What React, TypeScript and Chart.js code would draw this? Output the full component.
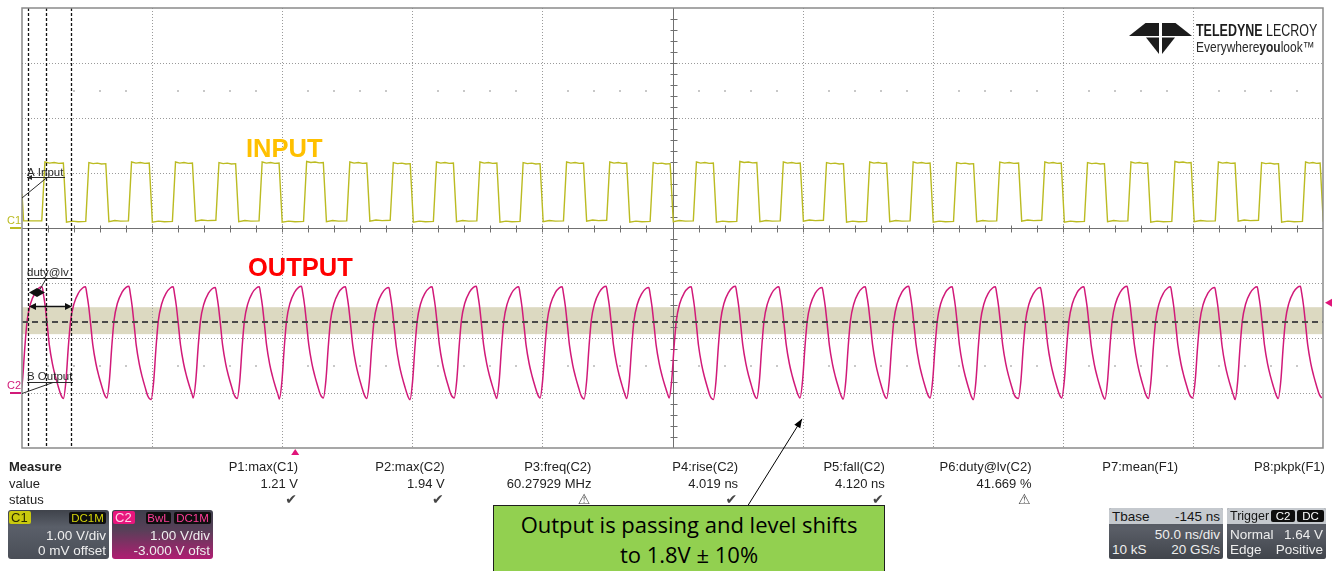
import React, { useEffect, useRef } from 'react';
import { Chart, registerables } from 'chart.js';

Chart.register(...registerables);

// ---------- screen settings (50 ns/div, trigger at 0 ns, Tbase -145 ns) ----------
const timeMinNs = -105;
const timeMaxNs = 395;
const timeGridNs = [-105, -55, -5, 45, 95, 145, 195, 245, 295, 345, 395];
const c1GridV = [-4, -3, -2, -1, 0, 1, 2, 3, 4]; // C1: 1.00 V/div, 0 mV offset
const c2AxisMinV = -1; // C2: 1.00 V/div, -3.000 V offset
const c2AxisMaxV = 7;

// ---------- C1 (input) edges ----------
const c1RiseNs = [-96.8, -79.9, -63.5, -46.6, -29.9, -13.3, 3.8, 20.4, 37.1, 53.7, 70.4, 87.0, 103.7, 120.3, 137.0, 153.6, 170.3, 187.0, 203.6, 220.2, 236.9, 253.6, 270.2, 287.5, 303.9, 320.6, 337.5, 354.2, 370.8, 387.7];
const c1FallNs = [-88.5, -72.2, -55.5, -38.9, -22.3, -5.6, 11.4, 28.1, 44.8, 61.4, 78.1, 94.7, 111.4, 128.0, 144.7, 161.3, 178.0, 194.7, 211.3, 227.9, 244.6, 261.3, 278.6, 295.0, 311.6, 328.2, 344.9, 361.8, 378.5, 394.5];
const c1HighV = [1.18, 1.17, 1.18, 1.18, 1.17, 1.18, 1.19, 1.18, 1.17, 1.18, 1.18, 1.17, 1.18, 1.18, 1.17, 1.18, 1.19, 1.18, 1.17, 1.18, 1.18, 1.17, 1.18, 1.18, 1.17, 1.18, 1.19, 1.18, 1.17, 1.18];
const c1LowV = [0.12, 0.13, 0.12, 0.14, 0.13, 0.12, 0.13, 0.14, 0.12, 0.13, 0.12, 0.13, 0.14, 0.12, 0.13, 0.12, 0.13, 0.14, 0.12, 0.13, 0.12, 0.13, 0.14, 0.12, 0.13, 0.12, 0.13, 0.14, 0.12, 0.13];
const c1StartV = [0.62, 0.13];
// plateau ripple read from one pulse: [fraction of plateau, dV]
const c1TopRipple = [[0, 0.02], [0.25, 0.0], [0.5, 0.01], [0.75, -0.005], [1, 0]];
const c1LowRipple = [[0, -0.015], [0.3, 0.005], [0.6, -0.005], [1, 0]];

// ---------- C2 (output) minima ----------
const c2MinNs = [-105.8, -89.1, -72.4, -55.4, -39.2, -22.3, -6.1, 10.8, 27.5, 44.1, 61.1, 77.4, 94.1, 111.0, 127.4, 143.7, 160.7, 177.4, 194.0, 210.6, 227.3, 244.0, 260.6, 277.9, 294.6, 311.2, 327.9, 344.9, 361.2, 377.8, 394.5];
const c2MinV = [-0.09, -0.10, -0.09, -0.12, -0.09, -0.10, -0.11, -0.09, -0.10, -0.12, -0.09, -0.10, -0.09, -0.11, -0.10, -0.09, -0.12, -0.10, -0.09, -0.11, -0.10, -0.09, -0.12, -0.10, -0.09, -0.11, -0.10, -0.09, -0.12, -0.10, -0.09];
const c2PeakV = [1.93, 1.93, 1.94, 1.93, 1.92, 1.93, 1.94, 1.93, 1.92, 1.93, 1.94, 1.93, 1.93, 1.94, 1.92, 1.93, 1.94, 1.93, 1.92, 1.93, 1.94, 1.93, 1.93, 1.92, 1.93, 1.94, 1.93, 1.92, 1.93, 1.94];
// one output cycle: time after minimum (ns) and fraction of swing
const c2CycleDtNs = [0, 1.0, 1.9, 2.8, 4.1, 5.8, 7.4, 8.5, 9.0, 9.7, 10.5, 11.3, 12.5, 13.6, 14.7, 15.8];
const c2CycleFrac = [0, 0.16, 0.46, 0.70, 0.85, 0.945, 0.99, 1.0, 0.94, 0.83, 0.66, 0.48, 0.31, 0.20, 0.11, 0.03];
const c2PeakIndex = 7;

// ---------- cursors / measurement levels ----------
const cursorNs = [-102.7, -95.8, -86.2];
const dutyBandV = [1.07, 1.30, 1.56];
const triggerTimeNs = 0;
const triggerLevelV = 1.64;
const calloutTarget = [194.8, -0.47];

// ---------- measurement panel ----------
const measureNames = ['P1:max(C1)', 'P2:max(C2)', 'P3:freq(C2)', 'P4:rise(C2)', 'P5:fall(C2)', 'P6:duty@lv(C2)', 'P7:mean(F1)', 'P8:pkpk(F1)'];
const measureValues = ['1.21 V', '1.94 V', '60.27929 MHz', '4.019 ns', '4.120 ns', '41.669 %', '', ''];
const measureStatus = ['ok', 'ok', 'warn', 'ok', 'ok', 'warn', '', ''];

const C1_COLOR = '#bbbb22';
const C2_COLOR = '#d11a79';
const FONT = '"Liberation Sans", Arial, Helvetica, sans-serif';

function buildInput() {
  const pts: { x: number; y: number }[] = [
    { x: timeMinNs, y: c1StartV[0] },
    { x: timeMinNs + 0.6, y: c1StartV[1] },
    { x: c1RiseNs[0] - 0.6, y: c1StartV[1] },
  ];
  for (let i = 0; i < c1RiseNs.length; i++) {
    const r = c1RiseNs[i];
    const f = c1FallNs[i];
    const topA = r + 0.6;
    const topB = f - 0.6;
    c1TopRipple.forEach(([fr, dv]) => pts.push({ x: topA + fr * (topB - topA), y: c1HighV[i] + dv }));
    const next = i + 1 < c1RiseNs.length ? c1RiseNs[i + 1] : timeMaxNs + 12;
    const lowA = f + 0.6;
    const lowB = next - 0.6;
    c1LowRipple.forEach(([fr, dv]) => pts.push({ x: lowA + fr * (lowB - lowA), y: c1LowV[i] + dv }));
  }
  return pts;
}

function buildOutput() {
  const pts: { x: number; y: number }[] = [];
  for (let i = 0; i < c2MinNs.length; i++) {
    const m = c2MinNs[i];
    pts.push({ x: m, y: c2MinV[i] });
    if (i + 1 < c2MinNs.length) {
      const pk = c2PeakV[i];
      for (let k = 1; k < c2CycleDtNs.length; k++) {
        const base = k <= c2PeakIndex ? c2MinV[i] : c2MinV[i + 1];
        pts.push({ x: m + c2CycleDtNs[k], y: base + c2CycleFrac[k] * (pk - base) });
      }
    }
  }
  return pts;
}

function seg(ctx: any, x1: number, y1: number, x2: number, y2: number) {
  ctx.beginPath();
  ctx.moveTo(x1, y1);
  ctx.lineTo(x2, y2);
  ctx.stroke();
}

function head(ctx: any, x: number, y: number, ang: number, len: number, half: number) {
  const c = Math.cos(ang);
  const s = Math.sin(ang);
  ctx.beginPath();
  ctx.moveTo(x, y);
  ctx.lineTo(x - len * c + half * s, y - len * s - half * c);
  ctx.lineTo(x - len * c - half * s, y - len * s + half * c);
  ctx.closePath();
  ctx.fill();
}

const snap = (v: number) => Math.round(v) + 0.5;

const scopePlugin = {
  id: 'scopeScreen',
  beforeDatasetsDraw(chart: any) {
    const { ctx, chartArea: a } = chart;
    const sx = chart.scales.x;
    const sy = chart.scales.y;
    const s2 = chart.scales.y2;
    ctx.save();
    // duty@lv hysteresis band
    const bt = s2.getPixelForValue(dutyBandV[2]);
    const bb = s2.getPixelForValue(dutyBandV[0]);
    ctx.fillStyle = '#dcd9c1';
    ctx.fillRect(a.left, bt, a.right - a.left, bb - bt);
    // dotted graticule
    const centerT = (timeMinNs + timeMaxNs) / 2;
    ctx.lineWidth = 1;
    ctx.strokeStyle = '#9a9a9a';
    ctx.setLineDash([1, 2]);
    timeGridNs.forEach((t) => {
      if (t === timeMinNs || t === timeMaxNs || t === centerT) return;
      const X = snap(sx.getPixelForValue(t));
      seg(ctx, X, a.top, X, a.bottom);
    });
    c1GridV.forEach((v) => {
      if (v === c1GridV[0] || v === c1GridV[c1GridV.length - 1] || v === 0) return;
      const Y = snap(sy.getPixelForValue(v));
      seg(ctx, a.left, Y, a.right, Y);
    });
    ctx.setLineDash([]);
    // minor dots at +-2.5 div
    ctx.fillStyle = '#c8c8c8';
    [2.5, -2.5].forEach((v) => {
      const Y = Math.round(sy.getPixelForValue(v));
      for (let k = 1; k < 50; k++) {
        if (k % 5 === 0) continue;
        const X = Math.round(sx.getPixelForValue(timeMinNs + k * 10));
        ctx.fillRect(X - 1, Y - 1, 2, 2);
      }
    });
    // centre axes with 1/5 division ticks
    ctx.strokeStyle = '#707070';
    const cx = snap(sx.getPixelForValue(centerT));
    const cy = snap(sy.getPixelForValue(0));
    seg(ctx, cx, a.top, cx, a.bottom);
    seg(ctx, a.left, cy, a.right, cy);
    for (let k = 1; k < 50; k++) {
      const X = snap(sx.getPixelForValue(timeMinNs + k * 10));
      seg(ctx, X, cy - 3, X, cy + 4);
    }
    for (let k = 1; k < 40; k++) {
      const Y = snap(sy.getPixelForValue(-4 + k * 0.2));
      seg(ctx, cx - 3, Y, cx + 4, Y);
    }
    ctx.restore();
  },
  afterDatasetsDraw(chart: any) {
    const { ctx, chartArea: a } = chart;
    const sx = chart.scales.x;
    const sy = chart.scales.y;
    const s2 = chart.scales.y2;
    ctx.save();
    // duty level dashed line
    ctx.setLineDash([6, 4]);
    ctx.lineWidth = 2;
    ctx.strokeStyle = '#4a4a4a';
    const ly = Math.round(s2.getPixelForValue(dutyBandV[1]));
    seg(ctx, a.left, ly, a.right, ly);
    // cursors
    ctx.setLineDash([3, 2]);
    ctx.lineWidth = 1.3;
    ctx.strokeStyle = '#111';
    cursorNs.forEach((t) => {
      const X = snap(sx.getPixelForValue(t));
      seg(ctx, X, a.top, X, a.bottom);
    });
    ctx.setLineDash([]);
    // frame
    ctx.strokeStyle = '#8a8a8a';
    ctx.lineWidth = 1.5;
    ctx.strokeRect(a.left, a.top, a.right - a.left, a.bottom - a.top);

    // annotation labels
    ctx.fillStyle = '#2a2a2a';
    ctx.strokeStyle = '#2a2a2a';
    ctx.lineWidth = 1;
    ctx.font = '11.5px ' + FONT;
    ctx.textBaseline = 'alphabetic';
    ctx.textAlign = 'left';
    const L = a.left;
    // A Input
    ctx.fillText('A Input', L + 5, 175.5);
    seg(ctx, L + 5, 177.5, L + 43, 177.5);
    head(ctx, L + 5, 177.5, Math.PI, 5, 2.5);
    seg(ctx, L, 198, L + 25, 177.5);
    // duty@lv
    ctx.fillText('duty@lv', L + 5, 276);
    seg(ctx, L + 5, 278.5, L + 49, 278.5);
    seg(ctx, L + 24, 279, L + 14, 296);
    // B Output
    ctx.fillText('B Output', L + 5, 380);
    seg(ctx, L + 5, 382.5, L + 51, 382.5);
    seg(ctx, L, 393.5, L + 31, 382.5);
    // thick duty arrow
    ctx.fillStyle = '#111';
    ctx.strokeStyle = '#111';
    ctx.lineWidth = 3;
    seg(ctx, L + 10, 292.5, L + 18, 292.5);
    head(ctx, L + 7, 292.5, Math.PI, 8, 4.5);
    head(ctx, L + 23, 292.5, 0, 8, 4.5);
    // period arrow
    ctx.lineWidth = 1.5;
    seg(ctx, L + 9, 306.5, L + 46, 306.5);
    head(ctx, L + 7, 306.5, Math.PI, 7, 3.5);
    head(ctx, L + 50, 306.5, 0, 7, 3.5);

    // channel markers
    ctx.font = '11px ' + FONT;
    const z1 = Math.round(sy.getPixelForValue(0));
    ctx.fillStyle = C1_COLOR;
    ctx.fillText('C1', 7, z1 - 4);
    ctx.fillRect(10, z1 - 1, 11, 2);
    const z2 = Math.round(s2.getPixelForValue(0));
    ctx.fillStyle = C2_COLOR;
    ctx.fillText('C2', 7, z2 - 4);
    ctx.fillRect(10, z2 - 1, 11, 2);

    // trigger markers
    ctx.fillStyle = '#e0157a';
    const tx = sx.getPixelForValue(triggerTimeNs);
    ctx.beginPath();
    ctx.moveTo(tx, a.bottom + 1);
    ctx.lineTo(tx - 4, a.bottom + 7);
    ctx.lineTo(tx + 4, a.bottom + 7);
    ctx.closePath();
    ctx.fill();
    const ty = s2.getPixelForValue(triggerLevelV);
    ctx.beginPath();
    ctx.moveTo(a.right + 2, ty);
    ctx.lineTo(a.right + 9, ty - 4);
    ctx.lineTo(a.right + 9, ty + 4);
    ctx.closePath();
    ctx.fill();

    // INPUT / OUTPUT labels
    ctx.font = 'bold 25.5px ' + FONT;
    ctx.fillStyle = '#ffc000';
    ctx.fillText('INPUT', 246, 156.5);
    ctx.fillStyle = '#ff0000';
    ctx.fillText('OUTPUT', 248, 275.5);

    // callout pointer
    const px = sx.getPixelForValue(calloutTarget[0]);
    const py = s2.getPixelForValue(calloutTarget[1]);
    ctx.strokeStyle = '#000';
    ctx.fillStyle = '#000';
    ctx.lineWidth = 1;
    const sx0 = 747;
    const sy0 = 507;
    seg(ctx, sx0, sy0, px, py);
    head(ctx, px, py, Math.atan2(py - sy0, px - sx0), 9, 3.5);

    // logo mark
    ctx.fillStyle = '#1c1c1c';
    const poly = (p: number[][]) => {
      ctx.beginPath();
      ctx.moveTo(p[0][0], p[0][1]);
      for (let i = 1; i < p.length; i++) ctx.lineTo(p[i][0], p[i][1]);
      ctx.closePath();
      ctx.fill();
    };
    poly([[1129, 36], [1145.5, 23], [1159, 23], [1159, 36]]);
    poly([[1146, 37.5], [1159, 37.5], [1159, 54]]);
    poly([[1192, 36], [1175.5, 23], [1162, 23], [1162, 36]]);
    poly([[1175, 37.5], [1162, 37.5], [1162, 54]]);
    ctx.restore();
  },
};

function Tag(props: any) {
  const { left, top, width, height = 12, bg, color, text, size = 11.5, align = 'center' } = props;
  return (
    <div
      style={{
        position: 'absolute', left, top, width, height, lineHeight: height + 'px', background: bg, color,
        fontSize: size, textAlign: align, borderRadius: 2, paddingLeft: align === 'left' ? 2 : 0, boxSizing: 'border-box',
      }}
    >
      {text}
    </div>
  );
}

function Row(props: any) {
  const { top, left, right, color = '#eeeeee', size = 13.5 } = props;
  return (
    <div style={{ position: 'absolute', top, left: 3, right: 3, height: 15, lineHeight: '15px', fontSize: size, color, whiteSpace: 'nowrap' }}>
      <span style={{ position: 'absolute', left: 0 }}>{left}</span>
      <span style={{ position: 'absolute', right: 0 }}>{right}</span>
    </div>
  );
}

export default function App() {
  const ref = useRef<HTMLCanvasElement | null>(null);

  useEffect(() => {
    document.body.style.margin = '0';
    document.body.style.overflow = 'hidden';
    const chart = new Chart(ref.current as HTMLCanvasElement, {
      type: 'line',
      data: {
        datasets: [
          {
            label: 'C1 input',
            data: buildInput(),
            borderColor: C1_COLOR,
            borderWidth: 1.4,
            pointRadius: 0,
            tension: 0,
            yAxisID: 'y',
          },
          {
            label: 'C2 output',
            data: buildOutput(),
            borderColor: C2_COLOR,
            borderWidth: 1.5,
            pointRadius: 0,
            cubicInterpolationMode: 'monotone',
            yAxisID: 'y2',
          },
        ],
      },
      options: {
        animation: false,
        responsive: false,
        maintainAspectRatio: false,
        events: [],
        layout: { padding: { left: 22, right: 9, top: 8, bottom: 123 } },
        plugins: { legend: { display: false }, tooltip: { enabled: false }, title: { display: false } },
        scales: {
          x: { type: 'linear', min: timeMinNs, max: timeMaxNs, display: false },
          y: { type: 'linear', min: c1GridV[0], max: c1GridV[c1GridV.length - 1], display: false },
          y2: { type: 'linear', min: c2AxisMinV, max: c2AxisMaxV, display: false },
        },
      },
      plugins: [scopePlugin],
    } as any);
    return () => chart.destroy();
  }, []);

  const colRight = (i: number) => 298 + i * 146.7;

  return (
    <div style={{ position: 'absolute', left: 0, top: 0, width: 1332, height: 571, overflow: 'hidden', background: '#fff', fontFamily: FONT }}>
      <canvas ref={ref} width={1332} height={571} style={{ position: 'absolute', left: 0, top: 0, width: 1332, height: 571 }} />

      {/* logo text */}
      <div style={{ position: 'absolute', left: 1196, top: 23, fontSize: 16, lineHeight: '16px', color: '#1c1c1c', whiteSpace: 'nowrap', transform: 'scaleX(0.78)', transformOrigin: 'left top' }}>
        <b>TELEDYNE</b> LECROY
      </div>
      <div style={{ position: 'absolute', left: 1196, top: 39, fontSize: 15, lineHeight: '15px', color: '#2a2a2a', whiteSpace: 'nowrap', transform: 'scaleX(0.8)', transformOrigin: 'left top' }}>
        Everywhere<b>you</b>look™
      </div>

      {/* measurement table */}
      <div style={{ position: 'absolute', left: 9, top: 459, fontSize: 13, lineHeight: '16px', color: '#222', fontWeight: 'bold' }}>Measure</div>
      <div style={{ position: 'absolute', left: 9, top: 475.5, fontSize: 13, lineHeight: '16px', color: '#222' }}>value</div>
      <div style={{ position: 'absolute', left: 9, top: 491.5, fontSize: 13, lineHeight: '16px', color: '#222' }}>status</div>
      {measureNames.map((n, i) => (
        <React.Fragment key={n}>
          <div style={{ position: 'absolute', right: 1332 - colRight(i), top: 459, fontSize: 13, lineHeight: '16px', color: '#222', whiteSpace: 'nowrap' }}>{n}</div>
          <div style={{ position: 'absolute', right: 1332 - colRight(i), top: 475.5, fontSize: 13, lineHeight: '16px', color: '#222', whiteSpace: 'nowrap' }}>{measureValues[i]}</div>
          <div style={{ position: 'absolute', right: 1332 - colRight(i) + 1, top: 491, fontSize: 14, lineHeight: '16px', color: '#454545', whiteSpace: 'nowrap', fontFamily: '"DejaVu Sans", sans-serif' }}>
            {measureStatus[i] === 'ok' ? '✔' : measureStatus[i] === 'warn' ? '⚠' : ''}
          </div>
        </React.Fragment>
      ))}

      {/* C1 channel descriptor */}
      <div style={{ position: 'absolute', left: 8, top: 510, width: 101, height: 49, borderRadius: 3, background: 'linear-gradient(180deg, #3f434b 0%, #5a5f69 35%, #4a4e57 100%)' }}>
        <Tag left={1} top={1} width={22} height={13} bg="#c9c90e" color="#2a2a00" text="C1" size={13} align="left" />
        <Tag left={61} top={2} width={37} bg="#0e0e0e" color="#d6d60a" text="DC1M" />
        <Row top={18} right="1.00 V/div" />
        <Row top={33} right="0 mV offset" />
      </div>

      {/* C2 channel descriptor */}
      <div style={{ position: 'absolute', left: 112, top: 510, width: 101, height: 49, borderRadius: 3, background: 'linear-gradient(180deg, #3e3f4c 0%, #574058 40%, #b01d72 100%)' }}>
        <Tag left={1} top={1} width={22} height={13} bg="#e8167d" color="#ffd6ea" text="C2" size={13} align="left" />
        <Tag left={34} top={2} width={25} bg="#0e0e0e" color="#ff3d99" text="BwL" />
        <Tag left={62} top={2} width={37} bg="#0e0e0e" color="#ff3d99" text="DC1M" />
        <Row top={18} right="1.00 V/div" />
        <Row top={33} right="-3.000 V ofst" />
      </div>

      {/* green callout */}
      <div style={{ position: 'absolute', left: 493, top: 505, width: 392, height: 90, boxSizing: 'border-box', background: '#92d050', border: '1.5px solid #1e1e1e', fontFamily: '"Open Sans", sans-serif', fontSize: 22, lineHeight: '30px', textAlign: 'center', color: '#000', paddingTop: 3 }}>
        Output is passing and level shifts
        <br />
        to 1.8V ± 10%
      </div>

      {/* timebase descriptor */}
      <div style={{ position: 'absolute', left: 1109, top: 508, width: 114, height: 51, borderRadius: 2, background: 'linear-gradient(180deg, #4e525a 0%, #5a5e67 40%, #41454c 100%)', overflow: 'hidden' }}>
        <div style={{ position: 'absolute', left: 0, top: 0, width: 114, height: 16, background: '#c5c9ce' }} />
        <Row top={1} left="Tbase" right="-145 ns" color="#151515" />
        <Row top={19} right="50.0 ns/div" />
        <Row top={34} left="10 kS" right="20 GS/s" />
      </div>

      {/* trigger descriptor */}
      <div style={{ position: 'absolute', left: 1227, top: 508, width: 99, height: 51, borderRadius: 2, background: 'linear-gradient(180deg, #4e525a 0%, #5a5e67 40%, #41454c 100%)', overflow: 'hidden' }}>
        <div style={{ position: 'absolute', left: 0, top: 0, width: 99, height: 16, background: '#c5c9ce' }} />
        <Row top={1} left="Trigger" right="" color="#151515" size={12.5} />
        <Tag left={44} top={2} width={24} bg="#0e0e0e" color="#ffffff" text="C2" />
        <Tag left={70} top={2} width={27} bg="#0e0e0e" color="#ffffff" text="DC" />
        <Row top={19} left="Normal" right="1.64 V" />
        <Row top={34} left="Edge" right="Positive" />
      </div>
    </div>
  );
}
